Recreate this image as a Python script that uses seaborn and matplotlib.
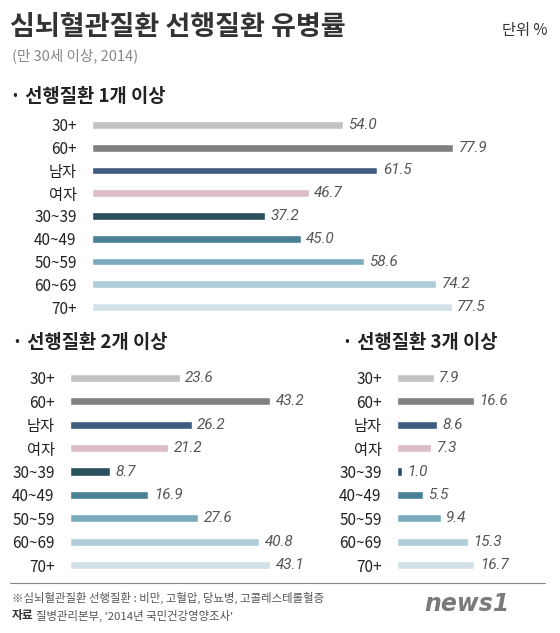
import numpy as np
import pandas as pd
import matplotlib
matplotlib.use('Agg')
import matplotlib.pyplot as plt
import seaborn as sns

# data
aCategory = ['30+', '60+', '남자', '여자', '30~39', '40~49', '50~59', '60~69', '70+']
aValue_1 = [54.0, 77.9, 61.5, 46.7, 37.2, 45.0, 58.6, 74.2, 77.5]
aValue_2 = [23.6, 43.2, 26.2, 21.2, 8.7, 16.9, 27.6, 40.8, 43.1]
aValue_3 = [7.9, 16.6, 8.6, 7.3, 1.0, 5.5, 9.4, 15.3, 16.7]
aColor = ['#c2c2c2', '#808080', '#335b8b', '#dfb8c3', '#1f5664',
          '#3c87a1', '#6fb1c9', '#a9cfe1', '#cde3eb']

sns.set_style('white')
plt.rcParams['font.family'] = ['Noto Sans CJK KR', 'DejaVu Sans']

W, H = 560, 633
fig = plt.figure(figsize=(W / 100, H / 100), dpi=100)


def add_axes_px(x0, y_top, width, height):
    return fig.add_axes([x0 / W, 1 - (y_top + height) / H, width / W, height / H])


def draw_panel(ax, aValue, xmax):
    df = pd.DataFrame({'cat': aCategory, 'val': aValue})
    sns.barplot(data=df, x='val', y='cat', hue='cat', palette=aColor,
                legend=False, width=0.35, ax=ax, orient='h')
    ax.set_xlim(0, xmax)
    ax.set_ylim(8.5, -0.5)
    ax.set_xlabel('')
    ax.set_ylabel('')
    ax.set_xticks([])
    sns.despine(ax=ax, left=True, bottom=True)
    ax.tick_params(axis='y', length=0, pad=11, labelsize=11, labelcolor='#222222')
    for c in ax.containers:
        ax.bar_label(c, fmt='%.1f', padding=4, fontsize=11,
                     fontstyle='italic', color='#555555',
                     family=['Roboto', 'DejaVu Sans'])
    ax.patch.set_alpha(0)


scale = 4.64  # px per percent
ax1 = add_axes_px(92, 113.6, scale * 100, 204.8)
draw_panel(ax1, aValue_1, 100)
ax2 = add_axes_px(70, 366.3, scale * 60, 210.4)
draw_panel(ax2, aValue_2, 60)
ax3 = add_axes_px(397, 366.3, scale * 30, 210.4)
draw_panel(ax3, aValue_3, 30)

# texts
def ftext(x, y, s, **kw):
    fig.text(x / W, 1 - y / H, s, **kw)

ftext(10, 27, '심뇌혈관질환 선행질환 유병률', fontsize=19.5, fontweight='bold',
      color='#333333', va='center')
ftext(12, 56, '(만 30세 이상, 2014)', fontsize=10.5, color='#888888', va='center')
ftext(548, 31, '단위 %', fontsize=11, color='#333333', va='center', ha='right')
ftext(10, 96, '· 선행질환 1개 이상', fontsize=13.5, fontweight='bold',
      color='#222222', va='center')
ftext(12, 343, '· 선행질환 2개 이상', fontsize=13.5, fontweight='bold',
      color='#222222', va='center')
ftext(342, 343, '· 선행질환 3개 이상', fontsize=13.5, fontweight='bold',
      color='#222222', va='center')

fig.add_artist(plt.Line2D([10 / W, 545 / W], [1 - 583 / H, 1 - 583 / H],
                          color='#888888', lw=0.8))
ftext(12, 598, '※심뇌혈관질환 선행질환 : 비만, 고혈압, 당뇨병, 고콜레스테롤혈증',
      fontsize=8.2, color='#555555', va='center')
ftext(12, 616, '자료', fontsize=8.5, color='#333333', fontweight='bold', va='center')
ftext(36, 616, "질병관리본부, '2014년 국민건강영양조사'",
      fontsize=8.2, color='#555555', va='center')
ftext(510, 604, 'news1', fontsize=17, fontweight='bold', fontstyle='italic',
      color='#7a7a7a', va='center', ha='right', family='DejaVu Sans')

fig.savefig('out.png', dpi=100, facecolor='white')
